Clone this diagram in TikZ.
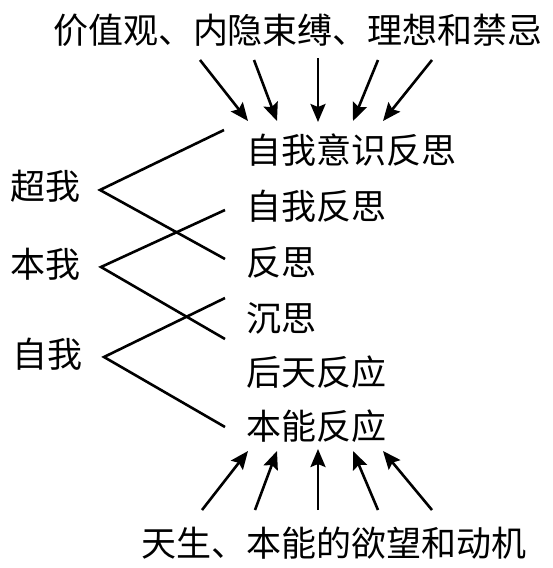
\documentclass[tikz,border=0pt]{standalone}
\usepackage{fontspec}
\setmainfont{Noto Sans CJK SC}
\usetikzlibrary{arrows.meta}
\begin{document}
\begin{tikzpicture}[x=1pt,y=-1pt,
  lbl/.style={inner sep=0pt,font=\fontsize{35}{41}\selectfont},
  rl/.style={lbl,anchor=west},
  ln/.style={line width=2.6pt},
  ar/.style={line width=2.6pt,-{Stealth[length=18pt,width=15pt,inset=3pt]}}]
\useasboundingbox (0,0) rectangle (552,568);
\node[lbl] (top) at (298,30) {价值观、内隐束缚、理想和禁忌};
\node[lbl] (bot) at (334,543) {天生、本能的欲望和动机};
\node[rl] (r1) at (246,150) {自我意识反思};
\node[rl] (r2) at (246,206) {自我反思};
\node[rl] (r3) at (246,262) {反思};
\node[rl] (r4) at (246,318) {沉思};
\node[rl] (r5) at (246,372) {后天反应};
\node[rl] (r6) at (246,426) {本能反应};
\node[rl] (l1) at (10,186) {超我};
\node[rl] (l2) at (10,264) {本我};
\node[rl] (l3) at (12,354) {自我};
% vertices and ends
\coordinate (v1) at (100,190);
\coordinate (v2) at (101,267);
\coordinate (v3) at (104,357);
\coordinate (e1) at (224,130);
\coordinate (e2) at (225,259);
\coordinate (e3) at (225,210);
\coordinate (e4) at (225,339);
\coordinate (e5) at (225,298);
\coordinate (e6) at (225,427);
\draw[ln] (e1) -- (v1) -- (e2);
\draw[ln] (e3) -- (v2) -- (e4);
\draw[ln] (e5) -- (v3) -- (e6);
% top arrows
\coordinate (ts1) at (200,60); \coordinate (tt1) at (248,121);
\coordinate (ts2) at (254,60); \coordinate (tt2) at (277,121);
\coordinate (ts3) at (318,58); \coordinate (tt3) at (318,122);
\coordinate (ts4) at (378,60); \coordinate (tt4) at (353,121);
\coordinate (ts5) at (432,60); \coordinate (tt5) at (383,121);
\foreach \i in {1,...,5} \draw[ar] (ts\i) -- (tt\i);
% bottom arrows
\coordinate (bs1) at (202,510); \coordinate (bt1) at (248,451);
\coordinate (bs2) at (255,510); \coordinate (bt2) at (277,451);
\coordinate (bs3) at (318,510); \coordinate (bt3) at (318,449);
\coordinate (bs4) at (378,510); \coordinate (bt4) at (353,451);
\coordinate (bs5) at (432,510); \coordinate (bt5) at (383,451);
\foreach \i in {1,...,5} \draw[ar] (bs\i) -- (bt\i);
\end{tikzpicture}
\end{document}
